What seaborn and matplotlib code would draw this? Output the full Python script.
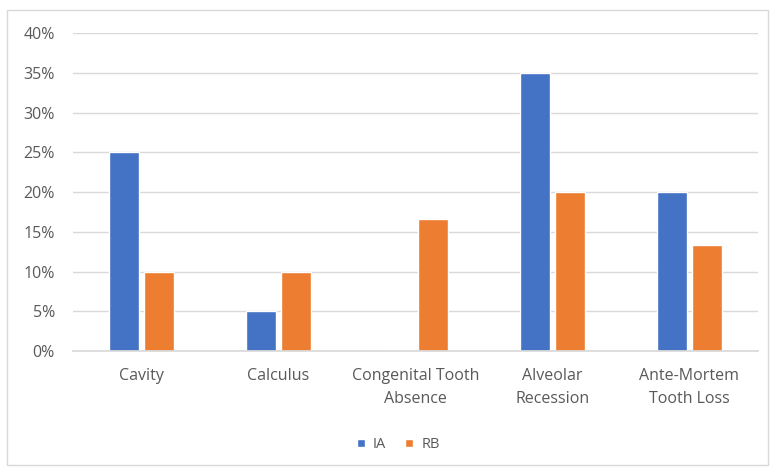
import matplotlib
matplotlib.use("Agg")
import matplotlib.pyplot as plt
from matplotlib.patches import Rectangle
from matplotlib.ticker import PercentFormatter
import seaborn as sns
import pandas as pd

categories = ["Cavity", "Calculus", "Congenital Tooth\nAbsence", "Alveolar\nRecession", "Ante-Mortem\nTooth Loss"]
ia_values = [0.25, 0.05, 0.0, 0.35, 0.20]
rb_values = [0.10, 0.10, 0.1667, 0.20, 0.1333]
groups = ["IA", "RB"]
y_ticks = [0, 0.05, 0.10, 0.15, 0.20, 0.25, 0.30, 0.35, 0.40]

df = pd.DataFrame({
    "category": categories * 2,
    "value": ia_values + rb_values,
    "group": [groups[0]] * len(categories) + [groups[1]] * len(categories),
})

sns.set_theme(style="white")
plt.rcParams["font.family"] = ["Open Sans", "DejaVu Sans"]
text_color = "#595959"
grid_color = "#D9D9D9"

fig = plt.figure(figsize=(7.72, 4.68), dpi=100)
ax = fig.add_axes([0.0946, 0.25, 0.887, 0.679])

sns.barplot(data=df, x="category", y="value", hue="group", order=categories,
            hue_order=groups, palette=["#4472C4", "#ED7D31"], width=0.504,
            gap=0.13, saturation=1, ax=ax, legend=True)

ax.set_ylim(0, 0.4)
ax.set_xlim(-0.5, len(categories) - 0.5)
ax.set_yticks(y_ticks)
ax.yaxis.set_major_formatter(PercentFormatter(1.0, decimals=0))
ax.yaxis.grid(True, color=grid_color, linewidth=1)
ax.set_axisbelow(True)
for side in ["top", "right", "left"]:
    ax.spines[side].set_visible(False)
ax.spines["bottom"].set_color(grid_color)
ax.tick_params(axis="both", length=0, colors=text_color, labelsize=11.5)
ax.tick_params(axis="x", pad=12)
ax.tick_params(axis="y", pad=13)
for lbl in ax.get_xticklabels():
    lbl.set_linespacing(1.6)
ax.set_xlabel("")
ax.set_ylabel("")

leg = ax.legend(loc="upper center", bbox_to_anchor=(0.475, -0.23), ncol=2, frameon=False,
                fontsize=10.5, handlelength=0.55, handleheight=0.55, handletextpad=0.55,
                columnspacing=1.3)
for t in leg.get_texts():
    t.set_color(text_color)

fig.patches.append(Rectangle((0.009, 0.0064), 0.986, 0.972, transform=fig.transFigure,
                             fill=False, edgecolor="#D9D9D9", linewidth=1))

fig.savefig("out.png", dpi=100, facecolor="white")
